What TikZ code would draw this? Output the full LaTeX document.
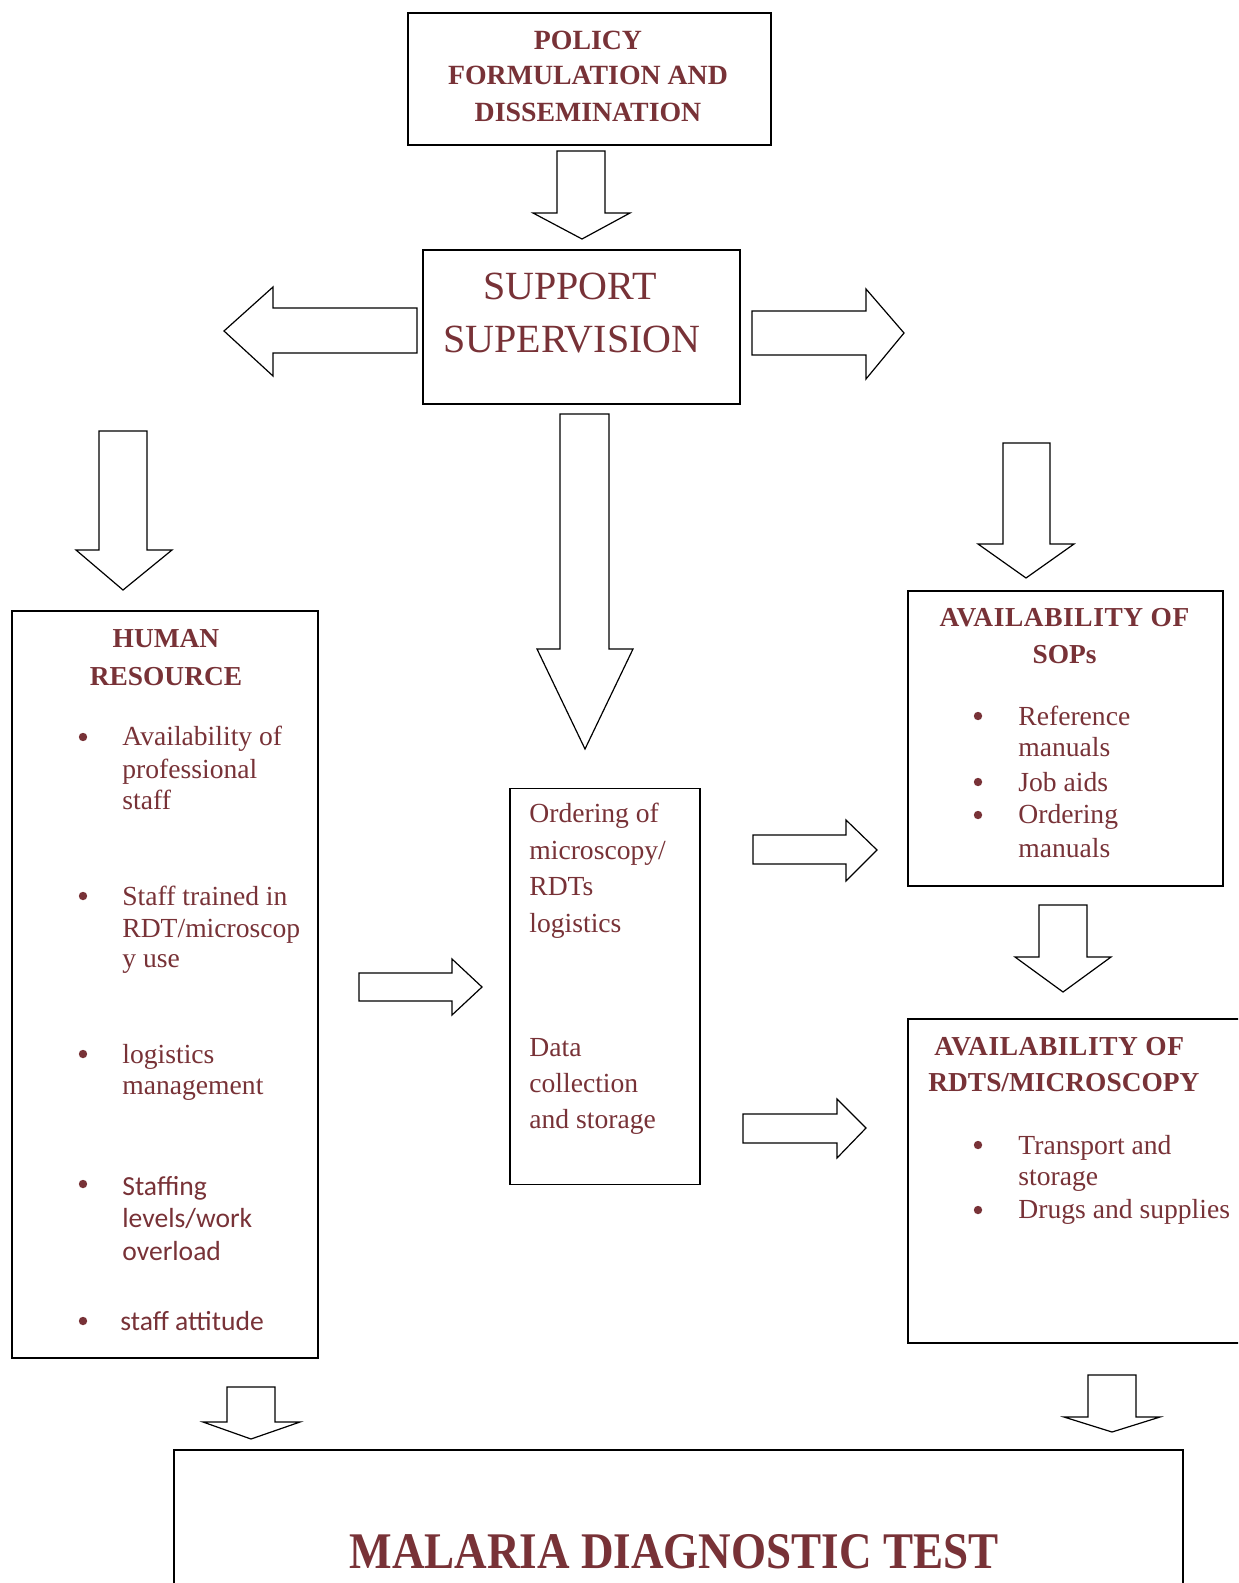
\documentclass[tikz,border=0pt]{standalone}
\usepackage{fontspec}
\setmainfont{Liberation Serif}
\newfontfamily\sansfam{Carlito}
\usepackage{graphicx}
\definecolor{mred}{RGB}{120,50,55}
\tikzset{
 box/.style={draw=black, line width=0.8pt, inner sep=0pt, outer sep=0pt},
 barrow/.style={draw=black, line width=0.6pt, fill=white, line join=miter},
 body/.style={text=mred, inner sep=0pt, font=\fontsize{13.8}{16}\selectfont, anchor=base west},
 sbody/.style={text=mred, inner sep=0pt, font=\sansfam\fontsize{13.8}{16}\selectfont, anchor=base west},
 head/.style={text=mred, inner sep=0pt, font=\bfseries\fontsize{13.7}{16}\selectfont, anchor=base},
 dot/.style={circle, fill=mred, inner sep=0pt, minimum size=4.2pt},
}
% down block arrow: shaftL shaftR top headY headL headR tipX tipY
\newcommand\BlkDown[8]{\draw[barrow] (#1,#3)--(#2,#3)--(#2,#4)--(#6,#4)--(#7,#8)--(#5,#4)--(#1,#4)--cycle;}
% right block arrow: shaftL headBaseX shaftTop shaftBot headTop headBot tipX tipY
\newcommand\BlkRight[8]{\draw[barrow] (#1,#3)--(#2,#3)--(#2,#5)--(#7,#8)--(#2,#6)--(#2,#4)--(#1,#4)--cycle;}
\begin{document}
\begin{tikzpicture}[x=0.5pt,y=-0.5pt]
\useasboundingbox (0,0) rectangle (1238,1583);
\clip (0,0) rectangle (1238,1583);
\fill[white] (0,0) rectangle (1238,1583);

% boxes
\node[box, minimum width=181.5pt, minimum height=66pt] (policy) at (589.5,79) {};
\node[box, minimum width=158.5pt, minimum height=77pt] (support) at (581.5,327) {};
\node[box, minimum width=153pt, minimum height=373.5pt] (hr) at (165,984.5) {};
\node[box, minimum width=95pt, minimum height=198pt] (order) at (605,986.5) {};
\node[box, minimum width=157.5pt, minimum height=147.5pt] (sops) at (1065.5,738.5) {};
\node[box, minimum width=171pt, minimum height=162pt] (rdts) at (1079,1181) {};
\node[box, minimum width=504.5pt, minimum height=75pt] (malaria) at (678.5,1525) {};

% block arrows
\BlkDown{557}{605}{151}{213}{533}{630}{582}{239}
\BlkDown{99}{147}{431}{550}{76}{172}{123}{590}
\BlkDown{560}{609}{414}{649}{537}{633}{585}{749}
\BlkDown{1003}{1050}{443}{544}{978}{1074}{1026}{578}
\BlkDown{1039}{1087}{905}{957}{1015}{1111}{1063}{992}
\BlkDown{227}{275}{1387}{1422}{203}{300}{251}{1439}
\BlkDown{1088}{1136}{1375}{1417}{1064}{1160}{1112}{1432}
\draw[barrow] (417,308)--(273,308)--(273,287)--(224,331)--(273,376)--(273,353)--(417,353)--cycle;
\BlkRight{752}{866}{311}{355}{289}{379}{904}{333}
\BlkRight{359}{452}{973}{1001}{959}{1015}{482}{987}
\BlkRight{753}{846}{835}{864}{820}{881}{877}{850}
\BlkRight{743}{837}{1114}{1143}{1099}{1158}{866}{1128}

% policy text
\node[head, font=\bfseries\fontsize{13.9}{16}\selectfont] (p1) at (588,50) {POLICY};
\node[head, font=\bfseries\fontsize{13.9}{16}\selectfont] (p2) at (588,85) {FORMULATION AND};
\node[head, font=\bfseries\fontsize{13.9}{16}\selectfont] (p3) at (588,122) {DISSEMINATION};

% support text
\node[text=mred, inner sep=0pt, anchor=base, font=\fontsize{20}{24}\selectfont] (s1) at (570,300) {SUPPORT};
\node[text=mred, inner sep=0pt, anchor=base, font=\fontsize{20}{24}\selectfont] (s2) at (572,352) {SUPERVISION};

% human resource
\node[head] (h1) at (166,647) {HUMAN};
\node[head] (h2) at (166,685) {RESOURCE};
\node[dot] (hb1) at (83,737) {};
\node[dot] (hb2) at (83,896) {};
\node[dot] (hb3) at (83,1054) {};
\node[dot] (hb4) at (83,1184) {};
\node[dot] (hb5) at (83,1321) {};
\node[body] (ht1) at (122,745) {Availability of};
\node[body] (ht2) at (122,778) {professional};
\node[body] (ht3) at (122,809) {staff};
\node[body] (ht4) at (122,905) {Staff trained in};
\node[body] (ht5) at (122,937) {RDT/microscop};
\node[body] (ht6) at (122,967) {y use};
\node[body] (ht7) at (122,1063) {logistics};
\node[body] (ht8) at (122,1094) {management};
\node[sbody] (ht9) at (122,1195) {Staffing};
\node[sbody] (ht10) at (122,1227) {levels/work};
\node[sbody] (ht11) at (122,1260) {overload};
\node[sbody] (ht12) at (120,1330) {staff attitude};

% ordering box
\node[body] (o1) at (529,822) {Ordering of};
\node[body] (o2) at (529,859) {microscopy/};
\node[body] (o3) at (529,895) {RDTs};
\node[body] (o4) at (529,932) {logistics};
\node[body] (o5) at (529,1056) {Data};
\node[body] (o6) at (529,1092) {collection};
\node[body] (o7) at (529,1128) {and storage};

% SOPs
\node[head, font=\bfseries\fontsize{13.7}{16}\selectfont\addfontfeatures{LetterSpace=2.2}] (q1) at (1064.5,626) {AVAILABILITY OF};
\node[head] (q2) at (1064.5,663) {SOPs};
\node[dot] (qb1) at (978,716) {};
\node[dot] (qb2) at (978,782) {};
\node[dot] (qb3) at (978,815) {};
\node[body] (qt1) at (1018,725) {Reference};
\node[body] (qt2) at (1018,756) {manuals};
\node[body] (qt3) at (1018,791) {Job aids};
\node[body] (qt4) at (1018,823) {Ordering};
\node[body] (qt5) at (1018,857) {manuals};

% RDTS
\node[head, anchor=base west, font=\bfseries\fontsize{13.7}{16}\selectfont\addfontfeatures{LetterSpace=2.2}] (r1) at (934,1055) {AVAILABILITY OF};
\node[head, anchor=base west] (r2) at (928,1091) {RDTS/MICROSCOPY};
\node[dot] (rb1) at (978,1145) {};
\node[dot] (rb2) at (978,1210) {};
\node[body] (rt1) at (1018,1154) {Transport and};
\node[body] (rt2) at (1018,1185) {storage};
\node[body] (rt3) at (1018,1218) {Drugs and supplies};

% malaria
\node[text=mred, inner sep=0pt, anchor=base, font=\bfseries\fontsize{25.7}{30}\selectfont] (m1) at (674,1568) {\scalebox{0.877}[1]{MALARIA DIAGNOSTIC TEST}};
\end{tikzpicture}
\end{document}
